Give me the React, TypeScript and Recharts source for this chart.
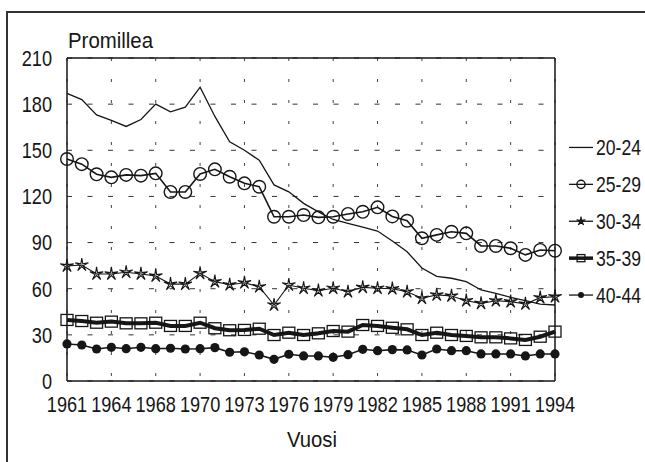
import { CartesianGrid, Legend, Line, LineChart, ReferenceLine, XAxis, YAxis } from "recharts"

const years = [
  "1961", "1962", "1963", "1964", "1965", "1966", "1967", "1968", "1969", "1970",
  "1971", "1972", "1973", "1974", "1975", "1976", "1977", "1978", "1979", "1980",
  "1981", "1982", "1983", "1984", "1985", "1986", "1987", "1988", "1989", "1990",
  "1991", "1992", "1993", "1994",
]

// labels as printed under the axis (every third year)
const tickLabels = ["1961", "1964", "1968", "1970", "1973", "1976", "1979", "1982", "1985", "1988", "1991", "1994"]

const yTicks = [0, 30, 60, 90, 120, 150, 180, 210]

const age20to24 = [
  187, 183, 173, 169.5, 165.5, 170, 180, 175, 178, 191,
  172, 155.5, 150, 143.5, 127.5, 123, 115.5, 110, 105, 102.5,
  100, 97.5, 91, 84, 73.5, 68, 66.8, 64.6, 59.2, 57,
  54.4, 52.2, 50, 49.4,
]
const age25to29 = [
  144.3, 141, 134.4, 132.4, 134, 133.5, 135, 122.9, 122.9, 134.6,
  137.6, 132.8, 128.5, 126.3, 106.8, 106.8, 107.9, 106.4, 106.8, 108.6,
  110, 112.9, 107, 104.2, 92.8, 95, 97, 96, 87.8, 87.8,
  86.3, 82, 85.2, 84.7,
]
const age30to34 = [
  74.8, 75.4, 69.6, 69.6, 70.7, 69.6, 68.3, 63, 63, 70,
  64.6, 62.6, 63.9, 61.3, 49.4, 62.4, 60.3, 58.7, 60.3, 58,
  60.9, 60.3, 60, 58, 53.8, 56, 55.3, 52.2, 50.5, 52.2,
  51.6, 50.1, 54.2, 54.8,
]
const age35to39 = [
  39.7, 39, 37.9, 38.6, 37.5, 37.5, 37.9, 35.8, 35.8, 37.9,
  34.3, 33, 33.2, 34, 29.9, 31.4, 29.9, 31, 32.5, 32.1,
  36.4, 35.8, 34.6, 33.6, 29.9, 31.4, 29.9, 29.3, 28.4, 28.4,
  27.7, 26.7, 28.8, 32.1,
]
const age40to44 = [
  24.1, 23.4, 20.8, 21.9, 21, 21.9, 21, 21.3, 20.8, 21,
  21.7, 18.7, 19, 16.9, 14.1, 17.4, 16.3, 16.3, 15.4, 17.1,
  20.6, 19.7, 20.4, 20.2, 16.9, 20.8, 19.7, 19.7, 17.6, 17.6,
  17.6, 16.3, 17.6, 17.6,
]

const data = years.map((year, i) => ({
  year,
  a20: age20to24[i],
  a25: age25to29[i],
  a30: age30to34[i],
  a35: age35to39[i],
  a40: age40to44[i],
}))

const font = "'Liberation Sans', Arial, sans-serif"
const ink = "#161616"

// the original uses a condensed face; squeeze Liberation Sans to that width
const narrowWidth = (s: string) =>
  s.split("").reduce((w, c) => w + (c === "-" ? 6 : /[0-9]/.test(c) ? 10.1 : 10), 0)

function NarrowText({ x, y, text, anchor = "start", dy, width }: any) {
  return (
    <text
      x={x}
      y={y}
      dy={dy}
      textAnchor={anchor}
      fontFamily={font}
      fontSize={22}
      fill={ink}
      textLength={width ?? narrowWidth(text)}
      lengthAdjust="spacingAndGlyphs"
    >
      {text}
    </text>
  )
}

function Marker({ kind, cx, cy, small }: { kind: string; cx: number; cy: number; small?: boolean }) {
  const s = small ? 0.65 : 1
  if (kind === "circle") return <circle cx={cx} cy={cy} r={6.3 * s} fill="none" stroke={ink} strokeWidth={1.4} />
  if (kind === "dot") return <circle cx={cx} cy={cy} r={4.6 * s} fill={ink} />
  if (kind === "square")
    return <rect x={cx - 6 * s} y={cy - 5.5 * s} width={12 * s} height={11 * s} fill="none" stroke={ink} strokeWidth={1.3} />
  if (kind === "star") {
    const pts: string[] = []
    for (let k = 0; k < 10; k++) {
      const r = (k % 2 === 0 ? 7 : 1.6) * s
      const a = -Math.PI / 2 + (k * Math.PI) / 5
      pts.push(`${cx + r * Math.cos(a)},${cy + r * Math.sin(a)}`)
    }
    return <polygon points={pts.join(" ")} fill="none" stroke={ink} strokeWidth={1.1} />
  }
  return null
}

const series = [
  { key: "a20", name: "20-24", marker: "none", width: 1.3 },
  { key: "a25", name: "25-29", marker: "circle", width: 1.6 },
  { key: "a30", name: "30-34", marker: "star", width: 1.1 },
  { key: "a35", name: "35-39", marker: "square", width: 4 },
  { key: "a40", name: "40-44", marker: "dot", width: 1.6 },
]

function makeDot(kind: string, key: string) {
  return (props: any) => (
    <g key={`${key}-${props.index}`}>
      {kind !== "none" && props.cx != null && <Marker kind={kind} cx={props.cx} cy={props.cy} />}
    </g>
  )
}

function LegendBox() {
  const row = 36.9
  return (
    <svg width={78} height={row * series.length} style={{ display: "block", overflow: "visible" }}>
      {series.map((s, i) => {
        const cy = row * i + row / 2
        return (
          <g key={s.key}>
            <line x1={2} y1={cy} x2={26} y2={cy} stroke={ink} strokeWidth={s.key === "a35" ? 3.5 : 1.3} />
            {s.marker !== "none" && <Marker kind={s.marker} cx={14} cy={cy} small />}
            <NarrowText x={29} y={cy} dy="0.36em" text={s.name} width={45} />
          </g>
        )
      })}
    </svg>
  )
}

function XTick(props: any) {
  const k = years.indexOf(props.payload.value)
  if (k % 3 !== 0) return null
  return <NarrowText x={props.x} y={props.y} dy="0.71em" anchor="middle" text={tickLabels[k / 3]} />
}

function YTick(props: any) {
  return <NarrowText x={props.x} y={props.y} dy="0.36em" anchor="end" text={String(props.payload.value)} />
}

export default function App() {
  return (
    <div style={{ position: "absolute", left: 0, top: 0, width: 645, height: 462, overflow: "hidden", background: "#fff" }}>
      <div
        style={{
          position: "absolute",
          left: 6,
          top: 11,
          width: 700,
          height: 500,
          borderLeft: "2px solid #333",
          borderTop: "2px solid #333",
        }}
      />
      <LineChart width={645} height={462} data={data} margin={{ top: 58, right: 90, bottom: 0, left: 0 }}>
        <CartesianGrid horizontal vertical={false} stroke="#333" strokeDasharray="5 15.5" />
        <CartesianGrid horizontal={false} vertical stroke="#444" strokeDasharray="3 18" />
        <XAxis
          dataKey="year"
          interval={2}
          height={81}
          tickSize={0}
          tickMargin={15}
          axisLine={{ stroke: ink, strokeWidth: 1.5 }}
          tick={<XTick />}
          label={{
            content: ({ viewBox }: any) => (
              <NarrowText
                x={viewBox.x + viewBox.width / 2 + 1}
                y={viewBox.y + viewBox.height - 15}
                anchor="middle"
                text="Vuosi"
                width={50}
              />
            ),
          }}
        />
        <YAxis
          domain={[0, 210]}
          ticks={yTicks}
          interval={0}
          width={67}
          tickSize={0}
          tickMargin={15}
          axisLine={{ stroke: ink, strokeWidth: 1.5 }}
          tick={<YTick />}
          label={{
            content: ({ viewBox }: any) => (
              <NarrowText x={viewBox.x + viewBox.width + 1} y={viewBox.y - 10} text="Promillea" width={85} />
            ),
          }}
        />
        <ReferenceLine y={210} stroke={ink} strokeWidth={1.5} />
        <ReferenceLine x="1994" stroke={ink} strokeWidth={1.5} />
        {series.map((s) => (
          <Line
            key={s.key}
            dataKey={s.key}
            name={s.name}
            type="linear"
            stroke={ink}
            strokeWidth={s.width}
            dot={makeDot(s.marker, s.key)}
            activeDot={false}
            isAnimationActive={false}
          />
        ))}
        <Legend
          layout="horizontal"
          verticalAlign="middle"
          align="center"
          content={() => <LegendBox />}
          wrapperStyle={{ left: 567, top: 129, width: 78 }}
        />
      </LineChart>
    </div>
  )
}
